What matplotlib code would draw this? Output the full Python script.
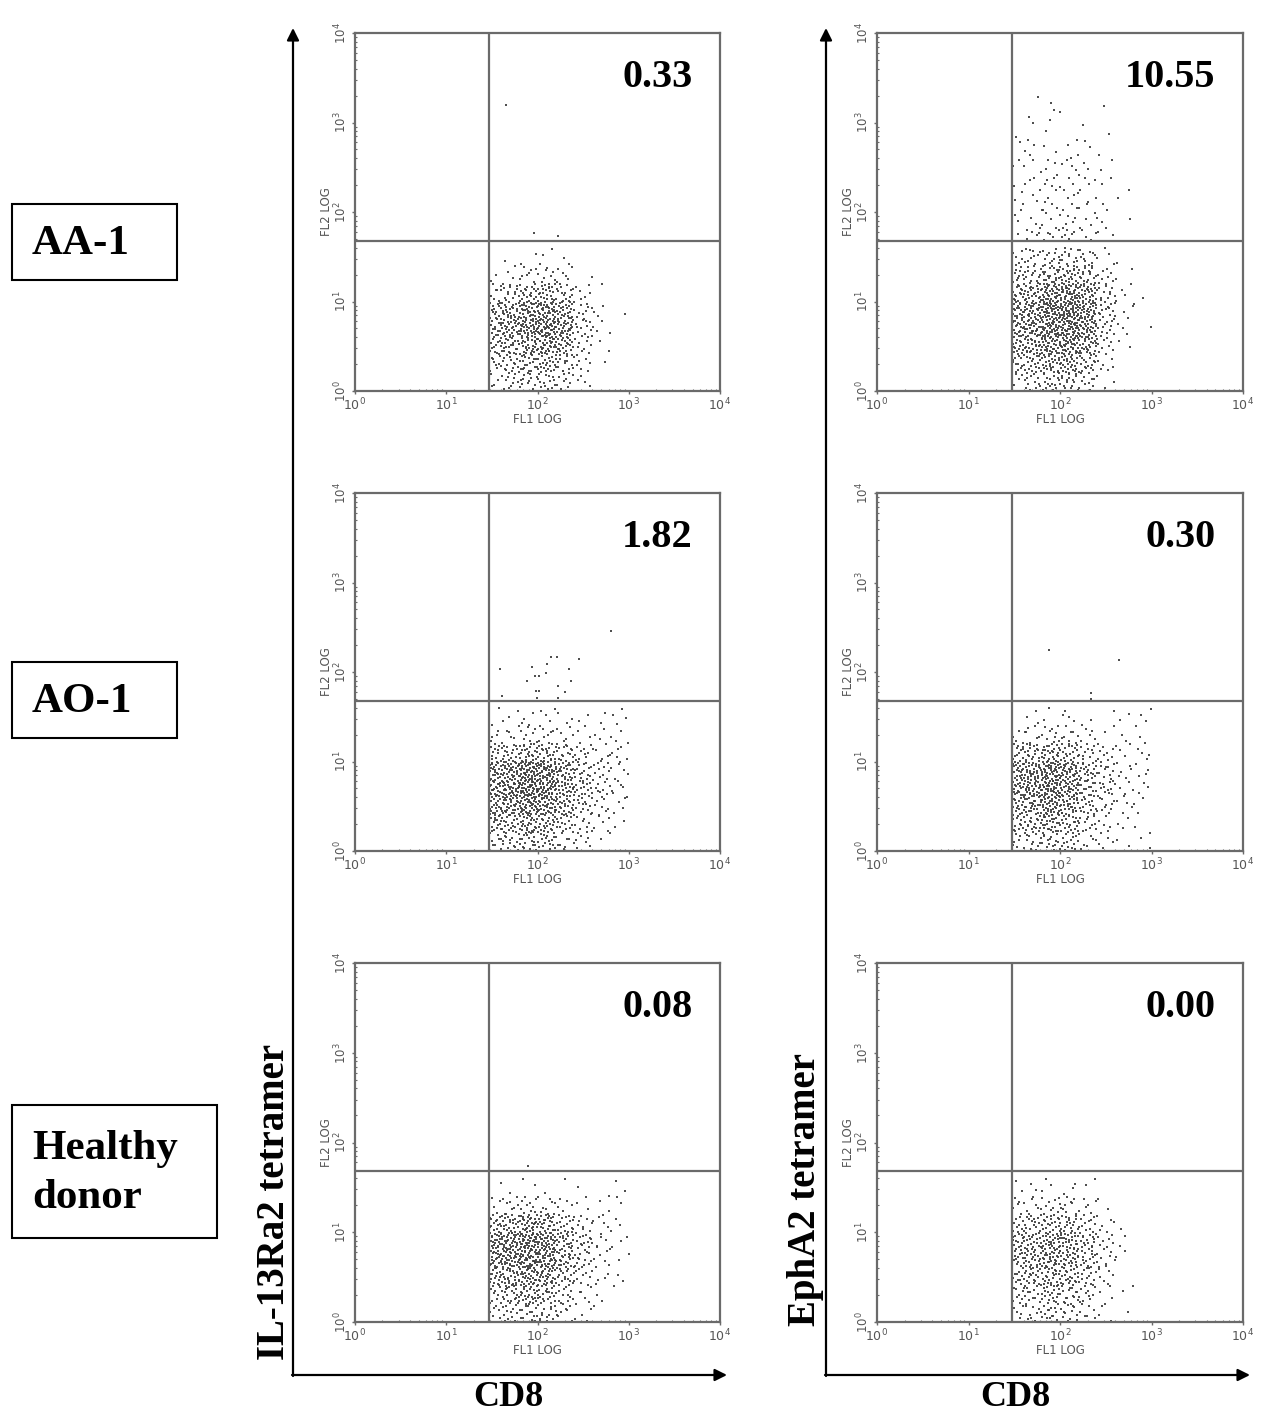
import numpy as np
import matplotlib.pyplot as plt
from matplotlib.patches import Rectangle

W, H = 1272, 1416

# log10 cell edges used for the dot-density grids
x_edges = [1.47, 1.6, 1.8, 2.0, 2.2, 2.4, 2.6, 2.8, 3.0]
y_edges_low = [1.6, 1.4, 1.2, 1.0, 0.8, 0.6, 0.4, 0.2, 0.0]
y_edges_up = [3.4, 3.2, 3.0, 2.8, 2.6, 2.4, 2.2, 2.0, 1.8, 1.68]

gate_x = 1.47
gate_y = 1.68

row_names = ['AA-1', 'AO-1', 'Healthy\ndonor']
col_names = ['IL-13Ra2 tetramer', 'EphA2 tetramer']
percents = [['0.33', '10.55'], ['1.82', '0.30'], ['0.08', '0.00']]

# counts per cell, lower-right quadrant (rows: high FL2 -> low FL2)
aa1_il13_low = [
    [0, 1, 2, 3, 2, 0, 0, 0],
    [2, 4, 8, 9, 6, 1, 0, 0],
    [8, 14, 20, 22, 16, 6, 1, 0],
    [14, 26, 34, 38, 28, 10, 3, 1],
    [16, 30, 38, 44, 32, 12, 4, 0],
    [12, 24, 30, 34, 26, 10, 2, 0],
    [8, 16, 20, 22, 16, 6, 1, 0],
    [5, 10, 14, 14, 10, 4, 0, 0],
]
aa1_il13_up_x = [1.66, 1.96, 2.23]
aa1_il13_up_y = [3.19, 1.76, 1.73]

aa1_epha2_low = [
    [6, 10, 12, 14, 10, 4, 1, 0],
    [10, 16, 22, 24, 18, 8, 2, 0],
    [16, 26, 36, 40, 30, 12, 4, 1],
    [20, 34, 46, 50, 38, 14, 4, 1],
    [20, 34, 44, 46, 36, 12, 3, 1],
    [16, 28, 36, 38, 28, 10, 2, 0],
    [12, 20, 26, 26, 18, 6, 0, 0],
    [6, 12, 16, 16, 10, 3, 0, 0],
]
aa1_epha2_up = [
    [0, 1, 1, 0, 0, 0, 0, 0],
    [0, 1, 2, 1, 0, 1, 0, 0],
    [1, 2, 1, 1, 1, 1, 0, 0],
    [1, 3, 2, 2, 2, 1, 0, 0],
    [2, 3, 4, 5, 3, 2, 0, 0],
    [2, 4, 5, 5, 4, 2, 1, 0],
    [2, 4, 5, 5, 4, 2, 1, 0],
    [2, 4, 5, 5, 4, 3, 1, 0],
    [2, 4, 5, 6, 4, 2, 0, 0],
]

ao1_il13_low = [
    [2, 3, 4, 4, 3, 2, 2, 4],
    [4, 6, 8, 8, 6, 4, 3, 4],
    [12, 18, 24, 22, 16, 10, 7, 5],
    [22, 36, 48, 42, 28, 16, 10, 6],
    [24, 40, 52, 46, 30, 18, 10, 6],
    [20, 32, 40, 36, 24, 14, 8, 4],
    [14, 22, 28, 24, 16, 10, 5, 2],
    [8, 14, 18, 16, 10, 6, 2, 0],
]
ao1_il13_up_x = [1.59, 1.94, 2.02, 2.09, 2.15, 2.21, 2.46, 2.34, 2.37, 1.89,
                 1.98, 2.02, 2.22, 2.30, 2.81, 1.61, 1.99, 2.23, 1.97, 2.10]
ao1_il13_up_y = [2.03, 2.06, 1.95, 1.99, 2.17, 2.17, 2.15, 2.03, 1.90, 1.90,
                 1.79, 1.79, 1.84, 1.78, 2.46, 1.73, 1.71, 1.71, 1.95, 2.09]

ao1_epha2_low = [
    [1, 3, 3, 4, 2, 1, 2, 3],
    [4, 7, 9, 8, 5, 3, 2, 3],
    [12, 20, 24, 20, 12, 8, 4, 4],
    [20, 34, 42, 34, 20, 12, 6, 4],
    [20, 36, 44, 36, 20, 12, 6, 3],
    [16, 28, 36, 30, 16, 10, 4, 3],
    [12, 20, 26, 22, 12, 6, 3, 2],
    [8, 12, 16, 14, 8, 4, 2, 2],
]
ao1_epha2_up_x = [1.88, 2.65, 2.34, 2.34]
ao1_epha2_up_y = [2.25, 2.13, 1.77, 1.70]

hd_il13_low = [
    [0, 2, 2, 1, 1, 1, 1, 2],
    [4, 8, 10, 8, 5, 3, 2, 2],
    [14, 24, 30, 26, 16, 9, 5, 3],
    [22, 38, 46, 40, 24, 14, 7, 3],
    [22, 38, 44, 38, 24, 13, 6, 2],
    [16, 28, 34, 30, 18, 10, 4, 2],
    [10, 20, 24, 20, 12, 6, 2, 1],
    [6, 12, 16, 14, 8, 4, 1, 0],
]
hd_il13_up_x = [1.90]
hd_il13_up_y = [1.74]

hd_epha2_low = [
    [2, 2, 3, 3, 2, 0, 0, 0],
    [5, 8, 10, 9, 6, 2, 0, 0],
    [10, 16, 20, 18, 12, 6, 1, 0],
    [14, 24, 30, 28, 18, 8, 2, 0],
    [14, 24, 30, 26, 18, 8, 2, 0],
    [12, 20, 24, 22, 14, 6, 1, 0],
    [8, 14, 18, 16, 10, 4, 1, 0],
    [6, 10, 14, 12, 8, 3, 1, 0],
]


def halton(idx, base):
    out = np.zeros(len(idx))
    for n, i in enumerate(idx):
        f, r = 1.0, 0.0
        while i > 0:
            f /= base
            r += f * (i % base)
            i //= base
        out[n] = r
    return out


def cell_points(counts, xe, ye, tag):
    # spread the counted dots of each cell evenly inside that cell
    xs, ys = [], []
    for i, row in enumerate(counts):
        y_hi, y_lo = ye[i], ye[i + 1]
        for j, n in enumerate(row):
            if n == 0:
                continue
            x_lo, x_hi = xe[j], xe[j + 1]
            start = 1 + (tag * 131 + i * 17 + j * 29) * 7
            k = np.arange(start, start + n)
            xs.append(x_lo + halton(k, 2) * (x_hi - x_lo))
            ys.append(y_lo + halton(k, 3) * (y_hi - y_lo))
    if not xs:
        return np.array([]), np.array([])
    return np.concatenate(xs), np.concatenate(ys)


panels = [
    [(aa1_il13_low, None, aa1_il13_up_x, aa1_il13_up_y),
     (aa1_epha2_low, aa1_epha2_up, [], [])],
    [(ao1_il13_low, None, ao1_il13_up_x, ao1_il13_up_y),
     (ao1_epha2_low, None, ao1_epha2_up_x, ao1_epha2_up_y)],
    [(hd_il13_low, None, hd_il13_up_x, hd_il13_up_y),
     (hd_epha2_low, None, [], [])],
]

fig = plt.figure(figsize=(W / 100, H / 100), dpi=100)

# overlay in pixel coordinates for arrows, boxes and big labels
ov = fig.add_axes([0, 0, 1, 1])
ov.set_xlim(0, W)
ov.set_ylim(H, 0)
ov.axis('off')

serif = 'Liberation Serif'
gray = '#6a6a6a'
dot = '#3c3c3c'

col_left = [355, 877]
col_width = [365, 366]
row_top = [33, 493, 963]
row_bot = [391, 851, 1322]

for r in range(3):
    for c in range(2):
        ax = fig.add_axes([col_left[c] / W, 1 - row_bot[r] / H,
                           col_width[c] / W, (row_bot[r] - row_top[r]) / H])
        low, up, ux, uy = panels[r][c]
        px, py = cell_points(low, x_edges, y_edges_low, r * 2 + c)
        ax.scatter(px, py, s=2.6, marker='s', color=dot, linewidths=0,
                   alpha=0.9)
        if up is not None:
            qx, qy = cell_points(up, x_edges, y_edges_up, 10 + r * 2 + c)
            ax.scatter(qx, qy, s=2.6, marker='s', color=dot, linewidths=0,
                       alpha=0.9)
        if ux:
            ax.scatter(ux, uy, s=2.6, marker='s', color=dot, linewidths=0,
                       alpha=0.9)
        ax.axvline(gate_x, color=gray, lw=1.6)
        ax.axhline(gate_y, color=gray, lw=1.6)
        ax.set_xlim(0, 4)
        ax.set_ylim(0, 4)
        for s in ax.spines.values():
            s.set_color(gray)
            s.set_linewidth(1.6)
        ticks = [0, 1, 2, 3, 4]
        labels = ['$10^{%d}$' % t for t in ticks]
        ax.set_xticks(ticks)
        ax.set_xticklabels(labels, fontsize=9, color='#555555')
        ax.set_yticks(ticks)
        ax.set_yticklabels(labels, fontsize=8.5, color='#555555',
                           rotation=90, va='center')
        minor = [d + np.log10(k) for d in range(4) for k in range(2, 10)]
        ax.set_xticks(minor, minor=True)
        ax.set_yticks(minor, minor=True)
        ax.tick_params(which='major', length=2, width=1, color=gray, pad=2)
        ax.tick_params(which='minor', length=1.5, width=0.8, color=gray,
                       direction='in')
        ax.set_xlabel('FL1 LOG', fontsize=8.5, color='#555555', labelpad=0)
        ax.set_ylabel('FL2 LOG', fontsize=8.5, color='#555555', labelpad=0)
        ax.text(0.925, 0.875, percents[r][c], transform=ax.transAxes,
                ha='right', va='center', fontsize=29, fontweight='bold',
                family=serif)

# big arrows
for xv, xe in [(293, 727), (826, 1250)]:
    ov.annotate('', xy=(xv, 28), xytext=(xv, 1376),
                arrowprops=dict(arrowstyle='-|>', color='black', lw=1.6,
                                mutation_scale=18, shrinkA=0, shrinkB=0))
    ov.annotate('', xy=(xe, 1375), xytext=(xv - 1, 1375),
                arrowprops=dict(arrowstyle='-|>', color='black', lw=1.6,
                                mutation_scale=18, shrinkA=0, shrinkB=0))

ov.text(508, 1398, 'CD8', ha='center', va='center', fontsize=26,
        fontweight='bold', family=serif)
ov.text(1015, 1398, 'CD8', ha='center', va='center', fontsize=26,
        fontweight='bold', family=serif)
ov.text(274, 1202, col_names[0], ha='center', va='center', rotation=90,
        fontsize=28, fontweight='bold', family=serif)
ov.text(806, 1190, col_names[1], ha='center', va='center', rotation=90,
        fontsize=28, fontweight='bold', family=serif)

# row label boxes
boxes = [(12, 204, 165, 76), (12, 662, 165, 76), (12, 1105, 205, 133)]
for (bx, by, bw, bh), name in zip(boxes, row_names):
    ov.add_patch(Rectangle((bx, by), bw, bh, fill=False, ec='black', lw=1.5))
    ov.text(bx + 20, by + bh / 2 + 2, name, ha='left', va='center',
            fontsize=31, fontweight='bold', family=serif, linespacing=1.4)

fig.savefig('out.png', dpi=100)
